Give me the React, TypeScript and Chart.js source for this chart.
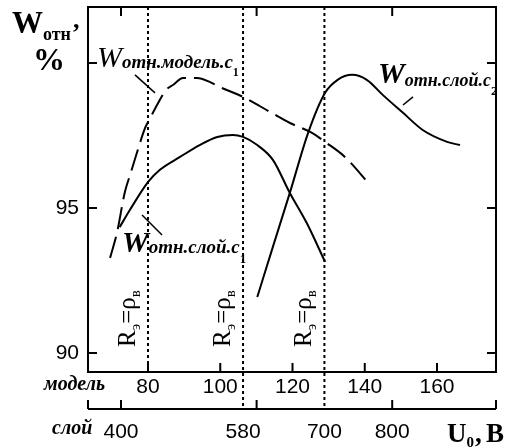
import React, { useEffect, useRef } from "react";
import { Chart, registerables } from "chart.js";

Chart.register(...registerables);

// ---- data ----
// model curve (dashed), x in model units
const modelU = [69.5, 71.4, 73.6, 75.3, 77.0, 79.2, 80.6, 82.8, 85.0, 86.9, 89.7, 93.6, 97.2, 99.9, 106.3, 113.8, 119.3, 125.4, 129.0, 134.5, 141.5];
const modelW = [93.28, 94.14, 95.55, 96.24, 96.93, 97.76, 98.1, 98.62, 99.07, 99.24, 99.48, 99.48, 99.34, 99.17, 98.83, 98.31, 97.93, 97.59, 97.28, 96.76, 95.79];
// layer c1 (solid hump), x in layer units
const layer1U = [398, 413, 440, 457, 487, 516, 542, 565, 580, 601, 624, 649, 674, 701];
const layer1W = [94.34, 94.93, 95.9, 96.31, 96.76, 97.17, 97.45, 97.52, 97.45, 97.17, 96.66, 95.52, 94.48, 93.14];
// layer c2 (solid)
const layer2U = [601, 624, 649, 676, 701, 719, 741, 763, 786, 816, 845, 881, 900];
const layer2W = [91.93, 93.66, 95.52, 97.59, 98.97, 99.41, 99.59, 99.41, 98.9, 98.28, 97.69, 97.28, 97.17];

const yTicks = [90, 95, 100];
const yTickLabels = ["90", "95", ""];
const modelTicks = [80, 100, 120, 140, 160];
const layerTicks = [400, 600, 800];
const layerLabels = [400, 580, 700, 800];
const modelBoundary = 80;
const layerBoundaries = [580, 700];

const X_MODEL_MIN = 63.39, X_MODEL_MAX = 176.33;
const X_LAYER_MIN = 351.3, X_LAYER_MAX = 953.1;
const Y_MIN = 89.345, Y_MAX = 101.93;

const SERIF = '"Liberation Serif", "DejaVu Serif", "Times New Roman", serif';
const SANS = '"Liberation Sans", Arial, "DejaVu Sans", sans-serif';

function rich(ctx: CanvasRenderingContext2D, x: number, y: number, parts: [string, string, number][]) {
  let cx = x;
  for (const [t, f, dy] of parts) {
    ctx.font = f;
    ctx.fillText(t, cx, y + dy);
    cx += ctx.measureText(t).width;
  }
  return cx;
}

function line(ctx: CanvasRenderingContext2D, x1: number, y1: number, x2: number, y2: number) {
  ctx.beginPath();
  ctx.moveTo(x1, y1);
  ctx.lineTo(x2, y2);
  ctx.stroke();
}

const overlay = {
  id: "overlay",
  beforeDatasetsDraw(chart: any) {
    const ctx: CanvasRenderingContext2D = chart.ctx;
    const { top, bottom } = chart.chartArea;
    const xm = chart.scales.xm, xl = chart.scales.xl;
    const layerY = bottom + 37;
    ctx.save();
    ctx.strokeStyle = "#000";
    ctx.lineWidth = 2;
    ctx.setLineDash([3, 3]);
    const bx = xm.getPixelForValue(modelBoundary);
    line(ctx, bx, top, bx, bottom);
    for (const v of layerBoundaries) {
      const px = xl.getPixelForValue(v);
      line(ctx, px, top, px, layerY);
    }
    ctx.restore();
  },
  afterDraw(chart: any) {
    const ctx: CanvasRenderingContext2D = chart.ctx;
    const { left, right, top, bottom } = chart.chartArea;
    const xm = chart.scales.xm, xl = chart.scales.xl, ys = chart.scales.y;
    const layerY = bottom + 37;
    ctx.save();
    ctx.strokeStyle = "#000";
    ctx.fillStyle = "#000";
    ctx.lineWidth = 2;
    ctx.setLineDash([]);
    ctx.strokeRect(left, top, right - left, bottom - top);

    // y ticks (inward on both sides)
    for (let i = 0; i < yTicks.length; i++) {
      const py = ys.getPixelForValue(yTicks[i]);
      line(ctx, left, py, left + 9, py);
      line(ctx, right, py, right - 9, py);
      if (yTickLabels[i]) {
        ctx.font = "21px " + SANS;
        ctx.textAlign = "right";
        ctx.textBaseline = "middle";
        ctx.fillText(yTickLabels[i], left - 9, py);
      }
    }
    // top ticks (layer positions)
    for (const v of layerTicks) {
      const px = xl.getPixelForValue(v);
      line(ctx, px, top, px, top + 9);
    }
    // model ticks on bottom
    ctx.textAlign = "center";
    ctx.textBaseline = "alphabetic";
    for (const v of modelTicks) {
      const px = xm.getPixelForValue(v);
      line(ctx, px, bottom, px, bottom - 9);
      ctx.font = "21px " + SANS;
      ctx.fillText(String(v), px, bottom + 21);
    }
    // layer axis
    line(ctx, left, layerY, right, layerY);
    line(ctx, left, layerY, left, layerY - 9);
    line(ctx, right, layerY, right, layerY - 9);
    for (const v of layerTicks) {
      const px = xl.getPixelForValue(v);
      line(ctx, px, layerY, px, layerY - 9);
    }
    ctx.font = "21px " + SANS;
    for (const v of layerLabels) {
      ctx.fillText(String(v), xl.getPixelForValue(v), layerY + 29);
    }

    // axis names
    ctx.textAlign = "left";
    ctx.font = "bold italic 20px " + SERIF;
    ctx.fillText("модель", 44, bottom + 18);
    ctx.fillText("слой", 52, layerY + 25);

    rich(ctx, 447, layerY + 33, [["U", "bold 27px " + SERIF, 0], ["0", "bold 15px " + SERIF, 5]]);
    ctx.font = "bold 27px " + SERIF;
    ctx.fillText(",", 475, layerY + 33);
    ctx.fillText("B", 486, layerY + 33);

    // y axis title
    rich(ctx, 12, 33, [["W", "bold 31px " + SERIF, 0], ["отн", "bold 18px " + SERIF, 7]]);
    ctx.font = "bold 26px " + SERIF;
    ctx.fillText(",", 73, 28);
    ctx.font = "bold 32px " + SERIF;
    ctx.fillText("%", 33, 70);

    // curve labels
    rich(ctx, 97, 67, [["W", "italic 30px " + SERIF, 0], ["отн.модель.c", "bold italic 19px " + SERIF, 1], ["1", "bold 12px " + SERIF, 9]]);
    rich(ctx, 378, 83, [["W", "bold italic 30px " + SERIF, 0], ["отн.слой.c", "bold italic 18px " + SERIF, 3], ["2", "bold 13px " + SERIF, 12]]);
    rich(ctx, 122, 252, [["W", "bold italic 30px " + SERIF, 0], ["отн.слой.c", "bold italic 19px " + SERIF, 1], ["1", "bold 13px " + SERIF, 11]]);

    // leader lines (in data coordinates of model axis)
    ctx.lineWidth = 1.5;
    const L = (m1: number, v1: number, m2: number, v2: number) =>
      line(ctx, xm.getPixelForValue(m1), ys.getPixelForValue(v1), xm.getPixelForValue(m2), ys.getPixelForValue(v2));
    L(76.4, 99.59, 81.94, 98.97);
    L(150.59, 98.55, 153.36, 98.83);
    L(78.34, 94.76, 83.88, 94.07);

    // R_э = ρ_в labels
    const labelX = [xm.getPixelForValue(modelBoundary), ...layerBoundaries.map((v) => xl.getPixelForValue(v))];
    const cy = ys.getPixelForValue(91.28);
    for (const lx of labelX) {
      ctx.save();
      ctx.translate(lx - 13, cy + 31);
      ctx.rotate(-Math.PI / 2);
      rich(ctx, 0, 0, [
        ["R", "25px " + SERIF, 0],
        ["э", "15px " + SERIF, 5],
        ["=", "25px " + SERIF, 0],
        ["ρ", "25px " + SERIF, 0],
        ["в", "15px " + SERIF, 5],
      ]);
      ctx.restore();
    }
    ctx.restore();
  },
};

export default function App() {
  const ref = useRef<HTMLCanvasElement>(null);
  useEffect(() => {
    if (!ref.current) return;
    const toPts = (xs: number[], ys: number[]) => xs.map((x, i) => ({ x, y: ys[i] }));
    const common = {
      yAxisID: "y",
      borderColor: "#000",
      borderWidth: 2,
      pointRadius: 0,
      cubicInterpolationMode: "monotone" as const,
      fill: false,
    };
    const chart = new Chart(ref.current, {
      type: "line",
      data: {
        datasets: [
          { ...common, data: toPts(modelU, modelW), xAxisID: "xm", borderDash: [22, 8] },
          { ...common, data: toPts(layer1U, layer1W), xAxisID: "xl" },
          { ...common, data: toPts(layer2U, layer2W), xAxisID: "xl" },
        ],
      },
      options: {
        responsive: false,
        animation: false,
        devicePixelRatio: 1,
        layout: { padding: { left: 88, right: 21, top: 7, bottom: 76 } },
        plugins: { legend: { display: false }, tooltip: { enabled: false } },
        scales: {
          xm: { type: "linear", position: "bottom", min: X_MODEL_MIN, max: X_MODEL_MAX, display: false },
          xl: { type: "linear", position: "bottom", min: X_LAYER_MIN, max: X_LAYER_MAX, display: false },
          y: { type: "linear", min: Y_MIN, max: Y_MAX, display: false },
        },
      },
      plugins: [overlay],
    });
    return () => chart.destroy();
  }, []);
  return (
    <div style={{ position: "fixed", left: 0, top: 0, width: 517, height: 448, background: "#fff" }}>
      <canvas ref={ref} width={517} height={448} style={{ width: 517, height: 448, display: "block" }} />
    </div>
  );
}
